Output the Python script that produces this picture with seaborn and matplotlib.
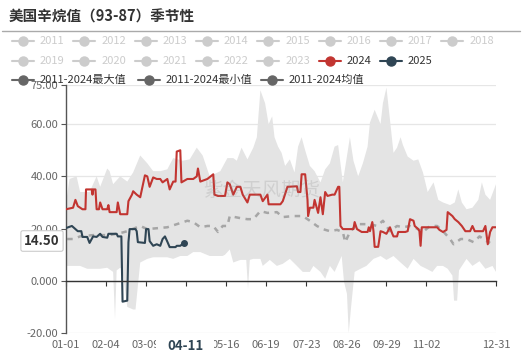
import numpy as np
import pandas as pd
import matplotlib
matplotlib.use("Agg")
import matplotlib.pyplot as plt
from matplotlib.lines import Line2D
from matplotlib.patches import Rectangle
import seaborn as sns

# ---------------- data ----------------
title = "美国辛烷值（93-87）季节性"
legend_row1 = ["2011", "2012", "2013", "2014", "2015", "2016", "2017", "2018"]
legend_row2 = ["2019", "2020", "2021", "2022", "2023", "2024", "2025"]
legend_row3 = ["2011-2024最大值", "2011-2024最小值", "2011-2024均值"]

tick_days = [0, 34, 68, 102, 136, 170, 204, 238, 272, 306, 365]
tick_labels = ["01-01", "02-04", "03-09", "", "05-16", "06-19", "07-23", "08-26", "09-29", "11-02", "12-31"]
y_ticks = [-20, 0, 20, 40, 60, 75]
y_tick_labels = ["-20.00", "0.000", "20.00", "40.00", "60.00", "75.00"]

pointer_day_label = "04-11"
pointer_value_label = "14.50"

# (day of year, value)
series_2024 = [(0, 27.4), (6, 28), (8, 31), (10, 28.6), (14, 27.4), (16.5, 27.4), (17, 35), (22, 35), (22.5, 33),
               (23, 35), (25, 35), (26, 27.4), (28, 27.4), (29, 30), (31, 27.4), (35, 27.4), (36, 29), (37, 26.3),
               (43, 26.3), (44, 30), (46, 25.5), (52, 25.5), (53, 30.5), (56, 33), (57, 34.3), (60, 33), (63, 32),
               (65, 36.2), (67, 40.4), (69, 40), (71, 36), (74, 39.6), (77, 39), (80, 39), (82, 37.7), (86, 39),
               (88, 35), (91, 38), (93, 38), (94, 49.5), (97, 50), (98, 37.7), (103, 39), (108, 39), (111, 40),
               (112, 43), (114, 38), (120, 39), (125, 40.8), (126, 33), (129, 32.5), (135, 32.5), (137, 37.7),
               (139, 37), (142, 33), (145, 36), (148, 36), (150, 33), (154, 30), (156, 33), (159, 33), (165, 33),
               (167, 30.5), (171, 33), (172, 29.3), (182, 29.3), (184, 30.5), (188, 36), (196, 36.2), (197, 34),
               (199, 34), (200, 40.8), (203, 40.8), (205, 31), (205.5, 24.8), (207, 28), (210, 28), (211, 31),
               (214, 26), (216, 32), (218, 25.5), (220, 34), (222, 32.5), (226, 33), (228, 33), (231, 36), (232, 36),
               (233, 21), (235, 19.8), (244, 19.8), (245, 22.5), (247, 19.8), (251, 18.7), (256, 18.7), (257, 20.5),
               (258, 19), (260, 22.5), (261, 19), (262, 13), (265, 13), (267, 19), (269, 18.7), (272, 18), (275, 20.5),
               (277, 18), (278, 17), (281, 17), (282, 18.7), (288, 18.7), (290, 19), (292, 23.6), (295, 23), (296, 21),
               (299, 19.8), (300, 19), (301, 13.4), (302, 20.5), (315, 20.5), (317, 19.5), (320, 18.7), (323, 19.5),
               (324, 26.3), (328, 24.8), (330, 23.6), (333, 22.5), (336, 21), (339, 19), (343, 19), (345, 21),
               (347, 19), (354, 19), (356, 21), (358, 14), (360, 18.7), (362, 20.5), (365, 20.5)]

series_2025 = [(0, 20.2), (5, 21), (8, 19.8), (10, 19), (13, 19), (14, 16.8), (18, 16.8), (20, 14.5), (23, 17),
               (26, 16.8), (29, 18), (31, 16.8), (35, 16.5), (36, 18), (43, 18), (44, 17), (47, 17), (48, -8),
               (52, -7.6), (53, 14.8), (54, 19.8), (59, 19.8), (60, 19), (61, 14.8), (67, 14.5), (68, 19.8),
               (70, 19.8), (71, 15.2), (74, 13.4), (77, 14), (80, 13.4), (82, 16), (84, 17), (86, 15), (88, 12.9),
               (93, 12.9), (94, 13.4), (97, 13.4), (100, 14.5)]

series_mean = [(1, 16), (6, 16), (12, 17), (23, 17.5), (37, 17.5), (48, 18.5), (52, 19), (63, 21), (69, 19.8),
               (86, 20.5), (103, 23), (108, 22.5), (114, 20.5), (120, 21), (125, 21), (129, 18.7), (133, 21),
               (137, 21), (139, 24.8), (148, 24), (154, 23.6), (159, 23.6), (165, 26.7), (171, 26), (179, 26.3),
               (184, 24.4), (193, 24.8), (201, 24.8), (207, 23), (213, 21), (218, 19.8), (224, 19), (230, 19.5),
               (235, 18.7), (237, 14.8), (241, 18.7), (247, 21.7), (258, 21.7), (264, 21), (269, 23), (275, 19),
               (281, 21), (286, 20.5), (292, 21), (298, 20), (303, 18.7), (309, 21), (315, 21), (320, 19), (326, 16),
               (329, 14), (335, 16), (340, 16), (346, 14.8), (351, 17), (357, 15.2), (360, 14.5)]

series_max = [(0, 30), (3, 39), (9, 40), (12, 34), (20, 34), (26, 40), (29, 36), (35, 43), (37, 42), (40, 37),
              (46, 40), (52, 38), (57, 41.5), (63, 48), (65, 47), (69, 45), (74, 42), (80, 42), (86, 42.7), (91, 47),
              (99, 46), (105, 46.5), (111, 51), (116, 48), (122, 40), (131, 42), (137, 47), (142, 47), (145, 46),
              (149, 51), (154, 46.5), (159, 51), (162, 55), (165, 73), (169, 68), (172, 60), (175, 63), (177, 55),
              (180, 51.4), (183, 49), (186, 44), (190, 46.5), (194, 41.5), (197, 51.4), (200, 55), (203, 50),
              (207, 44), (211, 42), (216, 37.7), (220, 42.7), (224, 45), (228, 51.4), (231, 52), (235, 37.7),
              (241, 55), (244, 46), (248, 40), (252, 45), (256, 51.4), (258, 60.6), (262, 65.5), (267, 60),
              (269, 68), (272, 74), (275, 61.7), (278, 49), (281, 51), (284, 55), (286, 52), (290, 47.6), (295, 46),
              (299, 46.5), (303, 41.5), (307, 34), (312, 37.7), (316, 31), (320, 30), (326, 29), (330, 30),
              (333, 35), (336, 30), (340, 27.4), (345, 28), (350, 31), (353, 37.7), (356, 33), (360, 31), (365, 37)]

series_min = [(0, 5.7), (12, 5.7), (18, 4.6), (29, 4.6), (35, 5), (40, 3.4), (41.6, -14.5), (43, 4), (46, 5),
              (48, 4), (52, -10), (57, -11), (59, -11), (63, 7), (69, 8.4), (74, 9), (86, 9), (91, 8.4), (97, 9.5),
              (103, 9.5), (108, 11), (114, 11), (122, 9.5), (133, 9.5), (135, 10), (139, 12), (142, 7), (148, 8),
              (153, 8), (154.5, -3), (156, 8), (159, 8.4), (165, 8.4), (167, 5.7), (173, 8), (179, 5.7), (184, 6.5),
              (190, 8.4), (196, 5.7), (201, 3.4), (207, 3.4), (210, 5.7), (216, 3.4), (220, 0.8), (224, 5.7),
              (228, 3.4), (234, 9.5), (236, -0.4), (238.5, -5), (240, -20), (242, -10), (245, 3.4), (250, 4.6),
              (255, 5.7), (261, 8.4), (267, 9.5), (272, 8), (278, 9.5), (284, 7), (290, 4.6), (295, 8.4), (301, 5.7),
              (306, 4.6), (311, 3.4), (315, 5.7), (320, 5.7), (324, 4.6), (328, 2), (329.4, -7.6), (332, -7.6),
              (333.6, 4), (340, 8.4), (345, 5.7), (351, 7.5), (356, 4.6), (362, 5.7), (365, 3.4)]

# ---------------- style ----------------
sns.set_style("white")
plt.rcParams['font.family'] = ['Noto Sans CJK SC', 'DejaVu Sans']

C_2024 = "#c23531"
C_2025 = "#2f4554"
C_GRAY = "#cccccc"

W, H = 526, 357
fig = plt.figure(figsize=(W / 100, H / 100), dpi=100)


def fx(px):
    return px / W


def fy(py):
    return 1 - py / H


ax = fig.add_axes([fx(66), fy(333), (496 - 66) / W, (333 - 85) / H])

def to_df(pairs):
    return pd.DataFrame(pairs, columns=["day", "value"])

df24 = to_df(series_2024)
df25 = to_df(series_2025)
dfm = to_df(series_mean)
dmax = to_df(series_max)
dmin = to_df(series_min)

# band between max and min
poly_x = np.r_[dmax["day"].values, dmin["day"].values[::-1]]
poly_y = np.r_[dmax["value"].values, dmin["value"].values[::-1]]
ax.fill(poly_x, poly_y, color="#e4e4e4", lw=0, zorder=1)

sns.lineplot(data=dfm, x="day", y="value", ax=ax, color="#a6a6a6", lw=1.8,
             linestyle=(0, (2.2, 2.2)), estimator=None, sort=False, zorder=2)
sns.lineplot(data=df24, x="day", y="value", ax=ax, color=C_2024, lw=1.5,
             estimator=None, sort=False, zorder=3)
sns.lineplot(data=df25, x="day", y="value", ax=ax, color=C_2025, lw=1.5,
             estimator=None, sort=False, zorder=4)
last = df25.iloc[-1]
ax.plot([last["day"]], [last["value"]], "o", color=C_2025, ms=4, zorder=5)

ax.set_xlim(0, 365)
ax.set_ylim(-20, 75)
ax.set_xlabel("")
ax.set_ylabel("")
ax.set_yticks(y_ticks)
ax.set_yticklabels(y_tick_labels)
ax.set_xticks(tick_days)
ax.set_xticklabels(tick_labels)
ax.yaxis.grid(True, color="#e6e6e6", lw=0.9, zorder=0)
ax.xaxis.grid(False)
ax.set_axisbelow(True)

for s in ["top", "right"]:
    ax.spines[s].set_visible(False)
ax.spines["left"].set_color("#555555")
ax.spines["left"].set_linewidth(1.0)
ax.spines["bottom"].set_position(("data", 0))
ax.spines["bottom"].set_color("#333333")
ax.spines["bottom"].set_linewidth(1.0)
ax.spines["bottom"].set_zorder(6)

ax.tick_params(axis="y", length=3.5, width=0.8, color="#555555", labelsize=8,
               labelcolor="#666666", pad=2, direction="out", left=True)
ax.tick_params(axis="x", length=3.5, width=0.8, color="#333333", labelsize=8,
               labelcolor="#666666", pad=39, direction="out", bottom=True)

# ---------------- title ----------------
fig.text(fx(9), fy(17), title, fontsize=10.5, fontweight="bold", color="#333333",
         va="center", ha="left")
fig.add_artist(Line2D([fx(2), fx(520)], [fy(31), fy(31)], color="#aaaaaa", lw=1.0))

# ---------------- legend ----------------
def legend_item(xm, yc, label, lcolor, tcolor):
    fig.add_artist(Line2D([fx(xm - 10), fx(xm + 12)], [fy(yc), fy(yc)], color=lcolor, lw=1.5))
    fig.add_artist(Line2D([fx(xm + 1)], [fy(yc)], marker="o", ms=6.5, color=lcolor, lw=0))
    fig.text(fx(xm + 18), fy(yc), label, fontsize=8, color=tcolor, va="center", ha="left")

for i, lab in enumerate(legend_row1):
    legend_item(22 + 61.3 * i, 41, lab, C_GRAY, C_GRAY)
for i, lab in enumerate(legend_row2):
    if lab == "2024":
        legend_item(22 + 61.3 * i, 61, lab, C_2024, "#333333")
    elif lab == "2025":
        legend_item(22 + 61.3 * i, 61, lab, C_2025, "#333333")
    else:
        legend_item(22 + 61.3 * i, 61, lab, C_GRAY, C_GRAY)
for xm, lab in zip([22, 148, 271], legend_row3):
    legend_item(xm, 80, lab, "#666666", "#333333")

# ---------------- watermark ----------------
fig.text(fx(262), fy(191), "紫金天风期货", fontsize=14, color="#888888", alpha=0.22,
         ha="center", va="center")

# ---------------- axis pointer labels ----------------
fig.add_artist(Rectangle((fx(156), fy(354)), (214 - 156) / W, 16 / H, transform=fig.transFigure,
                         facecolor="white", edgecolor="none", zorder=3))
fig.text(fx(185), fy(346), pointer_day_label, fontsize=9.5, fontweight="bold", color="#2f4554",
         ha="center", va="center", zorder=4)
fig.text(fx(42), fy(241), pointer_value_label, fontsize=9.5, fontweight="bold", color="#333333",
         ha="center", va="center",
         bbox=dict(boxstyle="round,pad=0.25,rounding_size=0.15", facecolor="white",
                   edgecolor="#cccccc", lw=0.8))

fig.savefig("out.png", dpi=100)
